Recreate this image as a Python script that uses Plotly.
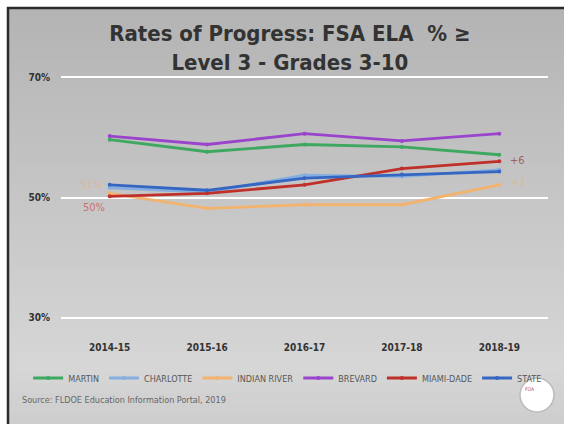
import plotly.graph_objects as go

W, H = 564, 424

years = ["2014-15", "2015-16", "2016-17", "2017-18", "2018-19"]
martin = [59.6, 57.6, 58.8, 58.4, 57.1]
charlotte = [51.6, 50.9, 53.7, 53.5, 54.6]
indian_river = [50.7, 48.2, 48.8, 48.8, 52.1]
brevard = [60.2, 58.8, 60.6, 59.4, 60.6]
miami_dade = [50.2, 50.7, 52.1, 54.8, 56.0]
state = [52.1, 51.2, 53.2, 53.8, 54.3]

series = [
    ("MARTIN", martin, "#3fa860"),
    ("CHARLOTTE", charlotte, "#86aee0"),
    ("INDIAN RIVER", indian_river, "#f2b36e"),
    ("BREVARD", brevard, "#9a44cc"),
    ("MIAMI-DADE", miami_dade, "#c0302a"),
    ("STATE", state, "#3566c2"),
]

y_ticks = [30, 50, 70]

FONT = "DejaVu Sans Condensed"

fig = go.Figure()
for name, vals, col in series:
    fig.add_trace(go.Scatter(
        x=years, y=vals, name=name, mode="lines+markers",
        line=dict(color=col, width=2.8),
        marker=dict(color=col, size=4),
    ))

def px_x(p):
    return p / W

def px_y(p):
    return 1 - p / H

# background gradient bands
shapes = []
def lerp(c1, c2, t):
    return tuple(int(round(a + (b - a) * t)) for a, b in zip(c1, c2))
top_c, mid_c, bot_c = (180, 180, 180), (214, 214, 214), (205, 205, 205)
y0p, y1p, y2p = 8, 370, 424
n = 40
for i in range(n):
    ya = y0p + (y2p - y0p) * i / n
    yb = y0p + (y2p - y0p) * (i + 1) / n
    ym = (ya + yb) / 2
    if ym <= y1p:
        c = lerp(top_c, mid_c, (ym - y0p) / (y1p - y0p))
    else:
        c = lerp(mid_c, bot_c, (ym - y1p) / (y2p - y1p))
    shapes.append(dict(type="rect", xref="paper", yref="paper", layer="below",
                       x0=px_x(8), x1=1, y0=px_y(yb + 1.5), y1=px_y(ya),
                       fillcolor="rgb(%d,%d,%d)" % c, line=dict(width=0)))
# border lines
shapes.append(dict(type="line", xref="paper", yref="paper", x0=px_x(8), x1=px_x(8),
                   y0=0, y1=px_y(7), line=dict(color="#2a2a2a", width=2.5)))
shapes.append(dict(type="line", xref="paper", yref="paper", x0=px_x(7), x1=1,
                   y0=px_y(8), y1=px_y(8), line=dict(color="#2a2a2a", width=2.5)))
# logo circle
shapes.append(dict(type="circle", xref="paper", yref="paper",
                   x0=px_x(520), x1=px_x(554), y0=px_y(412), y1=px_y(378),
                   fillcolor="white", line=dict(color="#bbbbbb", width=1.5)))

annotations = [
    dict(text=f"{round(miami_dade[0])}%", x=years[0], y=miami_dade[0], xref="x", yref="y",
         xshift=-16, yshift=-11, showarrow=False,
         font=dict(family=FONT, size=11, color="rgba(200,80,80,0.75)")),
    dict(text=f"{round(indian_river[0])}%", x=years[0], y=indian_river[0], xref="x", yref="y",
         xshift=-19, yshift=9, showarrow=False,
         font=dict(family=FONT, size=11, color="rgba(240,170,90,0.45)")),
    dict(text=f"+{round(miami_dade[-1]) - round(miami_dade[0])}", x=years[-1], y=miami_dade[-1],
         xref="x", yref="y", xshift=18, yshift=1, showarrow=False,
         font=dict(family=FONT, size=11, color="rgba(150,70,70,0.8)")),
    dict(text=f"+{round(indian_river[-1]) - round(indian_river[0])}", x=years[-1], y=indian_river[-1],
         xref="x", yref="y", xshift=19, yshift=2, showarrow=False,
         font=dict(family=FONT, size=11, color="rgba(240,170,90,0.45)")),
    dict(text="Source: FLDOE Education Information Portal, 2019", xref="paper", yref="paper",
         x=px_x(20), y=px_y(400), xanchor="left", yanchor="middle", showarrow=False,
         font=dict(family=FONT, size=9, color="#666666")),
    dict(text="FOA", xref="paper", yref="paper", x=px_x(537), y=px_y(394),
         showarrow=False, font=dict(family=FONT, size=5, color="#c05050")),
]

fig.update_layout(
    width=W, height=H,
    margin=dict(l=0, r=0, t=0, b=0),
    paper_bgcolor="white",
    plot_bgcolor="rgba(0,0,0,0)",
    title=dict(
        text="Rates of Progress: FSA ELA  % \u2265<br>Level 3 - Grades 3-10",
        x=0.514, xanchor="center", y=px_y(41), yanchor="middle",
        font=dict(family=FONT, size=22, color="#333333", weight="bold"),
    ),
    xaxis=dict(
        domain=[px_x(61), px_x(548)],
        type="category", range=[-0.5, 4.5],
        showgrid=False, zeroline=False, showline=False,
        ticks="outside", ticklen=14, tickcolor="rgba(0,0,0,0)",
        tickfont=dict(family=FONT, size=10, color="#333333", weight="bold"),
    ),
    yaxis=dict(
        domain=[px_y(324), px_y(71)],
        range=[29, 71],
        tickvals=y_ticks, ticktext=[f"{v}%" for v in y_ticks],
        showgrid=True, gridcolor="white", gridwidth=2,
        zeroline=False, showline=False,
        ticks="outside", ticklen=8, tickcolor="rgba(0,0,0,0)",
        tickfont=dict(family=FONT, size=10, color="#333333", weight="bold"),
    ),
    legend=dict(
        orientation="h", x=0.51, xanchor="center", y=px_y(378), yanchor="middle",
        bgcolor="rgba(0,0,0,0)", font=dict(family=FONT, size=9, color="#555555"),
        itemwidth=30, tracegroupgap=0,
    ),
    shapes=shapes,
    annotations=annotations,
)

fig.write_html("out.html", config={"displayModeBar": False},
               post_script="document.body.style.margin='0';document.body.style.overflow='hidden';")
